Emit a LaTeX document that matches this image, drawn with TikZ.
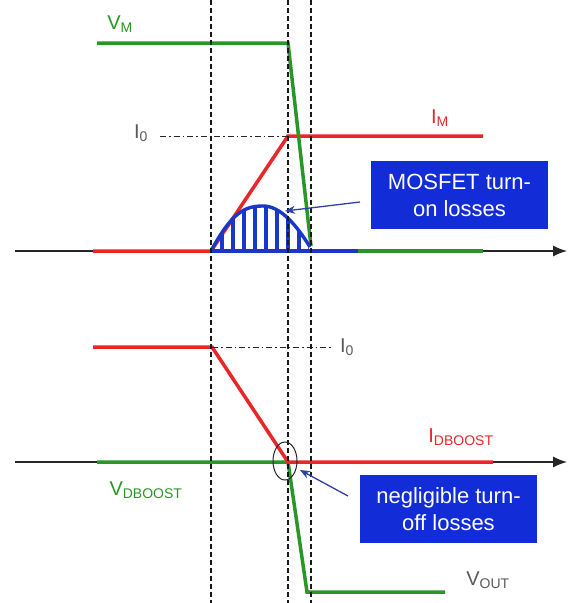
\documentclass[tikz,border=0pt]{standalone}
\usepackage{fontspec}
\setmainfont{Liberation Sans}
\usetikzlibrary{arrows.meta}
\definecolor{wgreen}{RGB}{40,150,40}
\definecolor{wred}{RGB}{232,40,40}
\definecolor{wblue}{RGB}{25,55,200}
\definecolor{pblue}{RGB}{45,65,165}
\definecolor{boxblue}{RGB}{18,45,215}
\definecolor{lblgray}{RGB}{90,90,90}
\begin{document}
\begin{tikzpicture}[x=1pt, y=-1pt,
    wave/.style={line width=3.5pt},
    vline/.style={line width=1.1pt, dash pattern=on 5pt off 3pt, black!90},
    dashdot/.style={line width=1pt, dash pattern=on 6pt off 3pt on 1.5pt off 3pt, black!85},
    axis/.style={line width=1.3pt, black!85, -{Latex[length=14pt,width=11pt]}},
    lbl/.style={font=\fontsize{20}{24}\selectfont, inner sep=0pt},
    lossbox/.style={fill=boxblue, text=white, align=center, minimum width=177pt,
        minimum height=68pt, inner sep=0pt, font=\fontsize{22}{27}\selectfont},
    ptr/.style={line width=1.3pt, pblue, -{Stealth[length=10pt,width=8pt]}}
]
\fill[white] (0,0) rectangle (575,603);
\useasboundingbox (0,0) rectangle (575,603);

% --- time axes ---
\coordinate (ta0) at (15,251);
\coordinate (ta1) at (567,251);
\coordinate (ba0) at (15,462);
\coordinate (ba1) at (567,462);
\draw[axis] (ta0) -- (ta1);
\draw[axis] (ba0) -- (ba1);

% --- MOSFET waveforms ---
\draw[wave, wred] (93,251) -- (211,251) -- (288,136) -- (483,136);
\draw[wave, wgreen] (358,251) -- (483,251);
\draw[wave, wgreen] (97,43) -- (288,43) -- (311,246);

% loss area (hatched)
\begin{scope}
  \clip (211,251) .. controls (232,212) and (245,206) .. (263,206)
        .. controls (281,206) and (297,226) .. (310,251) -- cycle;
  \foreach \hx in {222,233,...,311}
    \draw[wblue, line width=3.6pt] (\hx,200) -- (\hx,252);
\end{scope}
\draw[wblue, line width=3.4pt] (211,251) .. controls (232,212) and (245,206) .. (263,206)
      .. controls (281,206) and (297,226) .. (310,247);
\draw[wave, wblue] (211,251) -- (358,251);

% --- boost diode waveforms ---
\draw[wave, wgreen] (97,462) -- (288,462) -- (307,592) -- (445,592);
\draw[wave, wred] (93,347) -- (212,347) -- (288,462) -- (493,462);

% --- I0 levels ---
\draw[dashdot] (160,136) -- (288,136);
\draw[dashdot] (212,347) -- (333,347);

% --- switching instants ---
\foreach \vx in {211,288,311}
  \draw[vline] (\vx,0) -- (\vx,603);

% zero crossing
\draw[black!85, line width=1pt] (285,461) ellipse [x radius=12pt, y radius=19pt];

% --- labels ---
\node[lbl, text=wgreen] (vm) at (120,24) {V\textsubscript{M}};
\node[lbl, text=lblgray] (iotop) at (141,133) {I\textsubscript{0}};
\node[lbl, text=wred] (im) at (440,118) {I\textsubscript{M}};
\node[lbl, text=lblgray] (iobot) at (347,347) {I\textsubscript{0}};
\node[lbl, text=wred] (idb) at (461,437) {I\textsubscript{DBOOST}};
\node[lbl, text=wgreen] (vdb) at (146,490) {V\textsubscript{DBOOST}};
\node[lbl, text=lblgray] (vout) at (488,580) {V\textsubscript{OUT}};

% --- callouts ---
\node[lossbox] (onbox) at (459.5,195) {MOSFET turn-\\on losses};
\node[lossbox] (offbox) at (448.5,509) {negligible turn-\\off losses};
\coordinate (ontail) at (360,202);
\coordinate (onhead) at (285,211);
\coordinate (offtail) at (348,496);
\coordinate (offhead) at (300,470);
\draw[ptr] (ontail) -- (onhead);
\draw[ptr] (offtail) -- (offhead);
\end{tikzpicture}
\end{document}
